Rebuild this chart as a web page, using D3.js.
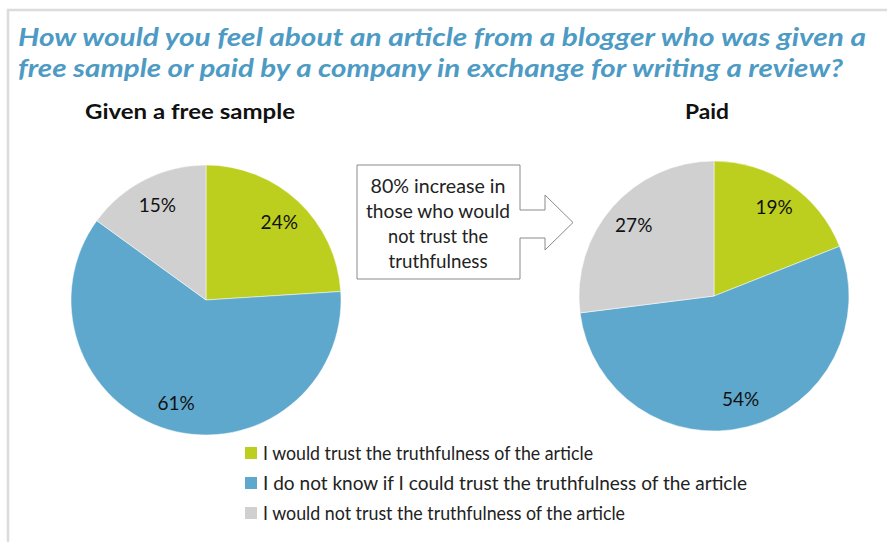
<!DOCTYPE html>
<html>
<head>
<meta charset="utf-8">
<script src="https://cdn.jsdelivr.net/npm/d3@7"></script>
<style>
  html, body { margin: 0; padding: 0; background: #fff; }
  svg { display: block; }
</style>
</head>
<body>
<div id="chart"></div>
<script>
// DATA
const categories = [
  'I would trust the truthfulness of the article',
  'I do not know if I could trust the truthfulness of the article',
  'I would not trust the truthfulness of the article'
];
const freeSampleValues = [24, 61, 15];
const paidValues = [19, 54, 27];
const pieTitles = ['Given a free sample', 'Paid'];
const titleLines = [
  'How would you feel about an article from a blogger who was given a',
  'free sample or paid by a company in exchange for writing a review?'
];
const calloutLines = ['80% increase in', 'those who would', 'not trust the', 'truthfulness'];

const colors = ['#bccf1e', '#5fa8cd', '#d0d0d0'];
const FONT = 'Lato, Open Sans, sans-serif';

const width = 887, height = 542;
const svg = d3.select('#chart').append('svg')
  .attr('width', width)
  .attr('height', height);

// fit a text to the width the original font gives it (keeps the height)
function fit(sel, targetW) {
  sel.attr('textLength', targetW).attr('lengthAdjust', 'spacingAndGlyphs');
  return sel;
}

// FRAME
svg.append('path')
  .attr('d', `M8,${height} L8,10 L${width},10`)
  .attr('fill', 'none')
  .attr('stroke', '#dcdcdc')
  .attr('stroke-width', 2.5);

// TITLE (one text, two lines)
const titleWidths = [848, 825];
const title = svg.append('text')
  .attr('font-family', FONT)
  .attr('font-style', 'italic')
  .attr('font-weight', 'bold')
  .attr('font-size', 25.5)
  .attr('fill', '#4d9bc4');
titleLines.forEach((t, i) => {
  title.append('tspan')
    .attr('x', 18)
    .attr('y', 46 + i * 31)
    .attr('textLength', titleWidths[i])
    .attr('lengthAdjust', 'spacingAndGlyphs')
    .text(t);
});

// PIES
const pie = d3.pie().sort(null).value(d => d);
const radius = 135;
const arc = d3.arc().innerRadius(0).outerRadius(radius);
const labelArc = d3.arc().innerRadius(107).outerRadius(107);

const pies = [
  { values: freeSampleValues, cx: 206, cy: 300, title: pieTitles[0], tx: 190, tw: 210 },
  { values: paidValues, cx: 714, cy: 296, title: pieTitles[1], tx: 707, tw: 44 }
];

pies.forEach(p => {
  const g = svg.append('g').attr('transform', `translate(${p.cx},${p.cy})`);
  const slices = pie(p.values);
  g.selectAll('path')
    .data(slices)
    .join('path')
    .attr('d', arc)
    .attr('fill', (d, i) => colors[i])
    .attr('stroke', '#fff')
    .attr('stroke-width', 0.5);

  g.selectAll('text')
    .data(slices)
    .join('text')
    .attr('transform', d => `translate(${labelArc.centroid(d)})`)
    .attr('text-anchor', 'middle')
    .attr('dy', '0.36em')
    .attr('font-family', FONT)
    .attr('font-size', 19)
    .attr('fill', '#111')
    .text(d => d.data + '%');

  const t = svg.append('text')
    .attr('x', p.tx)
    .attr('y', 119)
    .attr('text-anchor', 'middle')
    .attr('font-family', FONT)
    .attr('font-weight', 'bold')
    .attr('font-size', 21)
    .attr('fill', '#111')
    .text(p.title);
  fit(t, p.tw);
});

// CALLOUT BOX WITH ARROW
const bx0 = 357, bx1 = 520, by0 = 165, by1 = 279;
const shaftTop = 210, shaftBot = 238, headTop = 195, headBot = 250, headX = 545, tipX = 573;
const tipY = (headTop + headBot) / 2;
const callout = d3.path();
callout.moveTo(bx0, by0);
callout.lineTo(bx1, by0);
callout.lineTo(bx1, shaftTop);
callout.lineTo(headX, shaftTop);
callout.lineTo(headX, headTop);
callout.lineTo(tipX, tipY);
callout.lineTo(headX, headBot);
callout.lineTo(headX, shaftBot);
callout.lineTo(bx1, shaftBot);
callout.lineTo(bx1, by1);
callout.lineTo(bx0, by1);
callout.closePath();
svg.append('path')
  .attr('d', callout.toString())
  .attr('fill', '#fff')
  .attr('stroke', '#8a8a8a')
  .attr('stroke-width', 1);

const calloutWidths = [135, 144, 100, 99];
calloutLines.forEach((t, i) => {
  const el = svg.append('text')
    .attr('x', 438)
    .attr('y', 193 + i * 25)
    .attr('text-anchor', 'middle')
    .attr('font-family', FONT)
    .attr('font-size', 18.5)
    .attr('fill', '#222')
    .text(t);
  fit(el, calloutWidths[i]);
});

// LEGEND
const legendWidths = [330, 484, 362];
const legend = svg.append('g');
categories.forEach((c, i) => {
  const y = 453 + i * 30;
  legend.append('rect')
    .attr('x', 245)
    .attr('y', y - 6)
    .attr('width', 12)
    .attr('height', 12)
    .attr('fill', colors[i]);
  const el = legend.append('text')
    .attr('x', 263)
    .attr('y', y)
    .attr('dy', '0.36em')
    .attr('font-family', FONT)
    .attr('font-size', 18.5)
    .attr('fill', '#222')
    .text(c);
  fit(el, legendWidths[i]);
});
</script>
</body>
</html>
